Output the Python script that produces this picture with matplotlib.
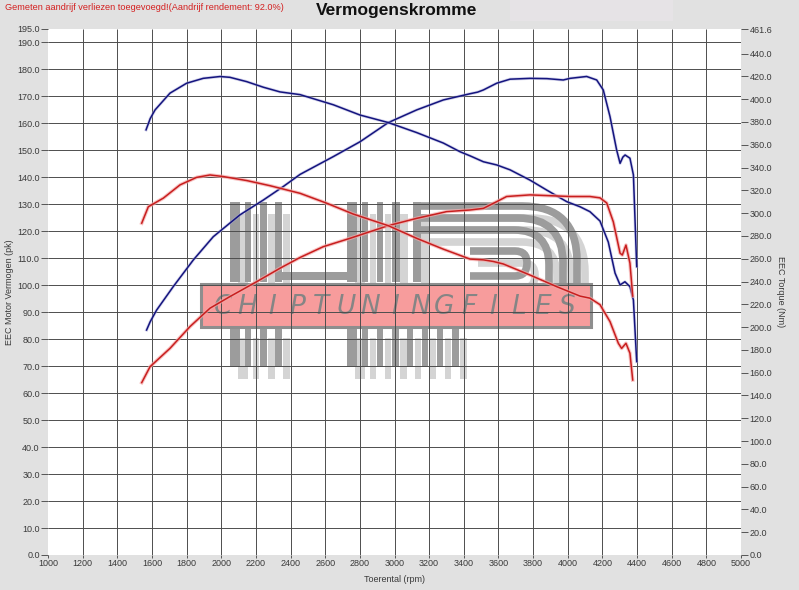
import numpy as np
import matplotlib.pyplot as plt
import matplotlib.patheffects as pe
from matplotlib.patches import Rectangle, PathPatch
from matplotlib.path import Path

plt.rcParams['font.family'] = ['Liberation Sans', 'DejaVu Sans']

# --- data ---
rpm_pk_blauw = [1569, 1590, 1627, 1723, 1839, 1954, 2108, 2243, 2358, 2455, 2647, 2801, 2964, 3128,
                3282, 3436, 3480, 3513, 3590, 3667, 3782, 3880, 3974, 4013, 4109, 4167, 4205, 4244,
                4282, 4302, 4318, 4331, 4359, 4379, 4398]
pk_blauw = [83.4, 86.5, 90.8, 99.5, 109.4, 118.0, 126.1, 131.6, 136.6, 141.1, 147.7, 153.2, 160.3, 165.0,
            168.7, 171.0, 171.6, 172.4, 174.9, 176.4, 176.7, 176.6, 176.1, 176.7, 177.4, 176.1, 172.4, 162.5,
            150.2, 145.2, 147.5, 148.3, 147.1, 140.9, 106.9]

rpm_nm_blauw = [1566, 1590, 1618, 1704, 1800, 1896, 1993, 2050, 2147, 2243, 2339, 2455, 2647, 2801,
                2964, 3128, 3282, 3378, 3436, 3513, 3590, 3667, 3782, 3878, 3994, 4071, 4128, 4186,
                4234, 4273, 4302, 4330, 4359, 4379, 4398]
nm_blauw = [373.1, 383.0, 390.6, 405.3, 414.0, 418.3, 419.9, 419.2, 415.4, 410.5, 406.4, 404.0, 395.1, 386.1,
            379.5, 370.7, 361.5, 353.9, 350.3, 345.1, 342.3, 338.0, 329.0, 320.3, 310.1, 305.6, 301.3, 293.1,
            274.6, 247.4, 237.0, 239.8, 235.5, 223.7, 169.7]

rpm_pk_rood = [1541, 1589, 1704, 1820, 1935, 2050, 2204, 2339, 2455, 2589, 2743, 2964, 3128, 3301,
               3436, 3513, 3590, 3647, 3782, 4013, 4128, 4186, 4225, 4263, 4302, 4315, 4336, 4359, 4375]
pk_rood = [63.9, 69.8, 76.6, 84.7, 91.5, 95.8, 101.3, 106.3, 110.3, 114.3, 117.4, 122.1, 124.8, 127.3,
           127.9, 128.5, 131.0, 132.9, 133.5, 132.9, 132.9, 132.4, 130.5, 123.5, 111.9, 111.2, 114.9, 108.2, 96.0]

rpm_nm_rood = [1541, 1579, 1666, 1762, 1858, 1935, 2012, 2147, 2281, 2455, 2609, 2762, 2964, 3128,
               3282, 3436, 3513, 3570, 3628, 3782, 3936, 4071, 4128, 4186, 4244, 4292, 4311, 4336, 4359, 4375]
nm_rood = [291.2, 305.6, 313.2, 324.8, 331.4, 333.5, 332.1, 328.6, 324.1, 317.4, 308.7, 299.2, 289.0, 277.9,
           268.4, 259.7, 259.0, 257.6, 255.4, 245.7, 235.5, 227.2, 225.4, 219.7, 204.8, 185.8, 181.3, 185.8, 177.1, 153.6]

x_ticks = list(range(1000, 5001, 200))
pk_ticks = [float(v) for v in range(0, 191, 10)] + [195.0]
nm_ticks = [float(v) for v in range(0, 441, 20)] + [461.6]
PK_MAX = 195.0
NM_MAX = 461.6

titel = 'Vermogenskromme'
melding = 'Gemeten aandrijf verliezen toegevoegd!(Aandrijf rendement: 92.0%)'

BLAUW = '#14147e'
ROOD = '#c81e1e'
GRIJS_BG = '#e1e1e1'

# --- figuur ---
W, H = 799, 590
L, R, T, B = 48, 741, 29, 555
fig = plt.figure(figsize=(W / 100, H / 100), dpi=100, facecolor=GRIJS_BG)

# achtergrond + watermerk in pixelcoordinaten
bg = fig.add_axes([0, 0, 1, 1], zorder=-1)
bg.set_xlim(0, W)
bg.set_ylim(H, 0)
bg.axis('off')
bg.add_patch(Rectangle((510, 0), 163, 21, color='#e6e3e6', lw=0))
bg.add_patch(Rectangle((L, T), R - L, B - T, color='white', lw=0))

logo_kleur = '#9c9c9c'
schaduw = '#d4d4d4'
staven_boven = [(230, 10), (245, 6), (260, 7), (275, 7), (347, 10), (362, 6), (377, 6), (392, 8), (413, 8)]
staven_onder = [(230, 10), (245, 6), (260, 7), (275, 7), (347, 10), (362, 6), (377, 6), (392, 7),
                (407, 6), (422, 6), (437, 6), (452, 7)]
for dx, dy, kl in [(8, 12, schaduw), (0, 0, logo_kleur)]:
    for x0, w in staven_boven:
        bg.add_patch(Rectangle((x0 + dx, 202 + dy), w, 80, color=kl, lw=0))
    for x0, w in staven_onder:
        bg.add_patch(Rectangle((x0 + dx, 326 + dy), w, 41, color=kl, lw=0))
    bg.add_patch(Rectangle((275 + dx, 272 + dy), 80, 8, color=kl, lw=0))
    for i, (ytop, xr, r) in enumerate([(206, 577, 55), (218, 563, 45), (230, 549, 35)]):
        verts = [(413 + dx, ytop + dy), (xr - r + dx, ytop + dy), (xr + dx, ytop + dy), (xr + dx, ytop + r + dy),
                 (xr + dx, 283 + dy)]
        codes = [Path.MOVETO, Path.LINETO, Path.CURVE3, Path.CURVE3, Path.LINETO]
        bg.add_patch(PathPatch(Path(verts, codes), fill=False, ec=kl, lw=5.5, capstyle='butt'))
    verts = [(470 + dx, 251 + dy), (515 + dx, 251 + dy), (527 + dx, 251 + dy), (527 + dx, 263 + dy),
             (527 + dx, 276 + dy), (515 + dx, 276 + dy), (470 + dx, 276 + dy)]
    codes = [Path.MOVETO, Path.LINETO, Path.CURVE3, Path.CURVE3, Path.CURVE3, Path.CURVE3, Path.LINETO]
    bg.add_patch(PathPatch(Path(verts, codes), fill=False, ec=kl, lw=5.5, capstyle='butt'))

bg.add_patch(Rectangle((201, 284), 390, 43, fc='#f79c9c', ec='#8e8e8e', lw=2.2))
for i, letter in enumerate('CHIPTUNINGFILES'):
    bg.text(223 + i * 24.6, 307, letter, fontsize=19, fontstyle='italic', family='DejaVu Sans',
            color='#858585', ha='center', va='center')

# hoofdas: vermogen (pk)
ax = fig.add_axes([L / W, 1 - B / H, (R - L) / W, (B - T) / H], zorder=0)
ax.patch.set_visible(False)
ax.set_xlim(1000, 5000)
ax.set_ylim(0, PK_MAX)
ax.vlines(x_ticks[1:-1], 0, PK_MAX, color='#4d4d4d', lw=0.7)
ax.hlines(pk_ticks[1:-1], 1000, 5000, color='#4d4d4d', lw=0.7)
for s in ax.spines.values():
    s.set_visible(False)
ax.set_xticks(x_ticks)
ax.set_xticklabels([str(v) for v in x_ticks])
ax.set_yticks(pk_ticks)
ax.set_yticklabels([f'{v:.1f}' for v in pk_ticks])
ax.tick_params(axis='y', direction='out', length=5, width=0.7, color='#555555',
               labelsize=6.5, labelcolor='#3a3a3a', pad=1)
ax.tick_params(axis='x', direction='out', length=2, width=0.7, color='#555555',
               labelsize=6.5, labelcolor='#3a3a3a', pad=1)
ax.set_xlabel('Toerental (rpm)', fontsize=6.5, color='#3a3a3a', labelpad=5)
ax.set_ylabel('EEC Motor Vermogen (pk)', fontsize=6.5, color='#3a3a3a', labelpad=2)

# tweede as: koppel (Nm)
ax2 = ax.twinx()
ax2.set_ylim(0, NM_MAX)
for s in ax2.spines.values():
    s.set_visible(False)
ax2.set_yticks(nm_ticks)
ax2.set_yticklabels([f'{v:.1f}' for v in nm_ticks])
ax2.tick_params(axis='y', direction='out', length=5, width=0.7, color='#555555',
                labelsize=6.5, labelcolor='#3a3a3a', pad=1)
ax2.set_ylabel('EEC Torque (Nm)', fontsize=6.5, color='#3a3a3a', rotation=-90, labelpad=9)

halo_r = [pe.Stroke(linewidth=2.6, foreground='#f4a8a8', alpha=0.7), pe.Normal()]
halo_b = [pe.Stroke(linewidth=2.2, foreground='#a8a8d8', alpha=0.5), pe.Normal()]
ax2.plot(rpm_pk_blauw, pk_blauw, color=BLAUW, lw=1.1, transform=ax.transData, path_effects=halo_b)
ax2.plot(rpm_nm_blauw, nm_blauw, color=BLAUW, lw=1.1, path_effects=halo_b)
ax2.plot(rpm_pk_rood, pk_rood, color=ROOD, lw=1.1, transform=ax.transData, path_effects=halo_r)
ax2.plot(rpm_nm_rood, nm_rood, color=ROOD, lw=1.1, path_effects=halo_r)

fig.text(397 / W, 1 - 11 / H, titel, fontsize=12.5, fontweight='bold', color='#111111',
         ha='center', va='center')
fig.text(5 / W, 1 - 8 / H, melding, fontsize=6.6, color='#d42020', ha='left', va='center')

fig.savefig('out.png', dpi=100, facecolor=GRIJS_BG)
